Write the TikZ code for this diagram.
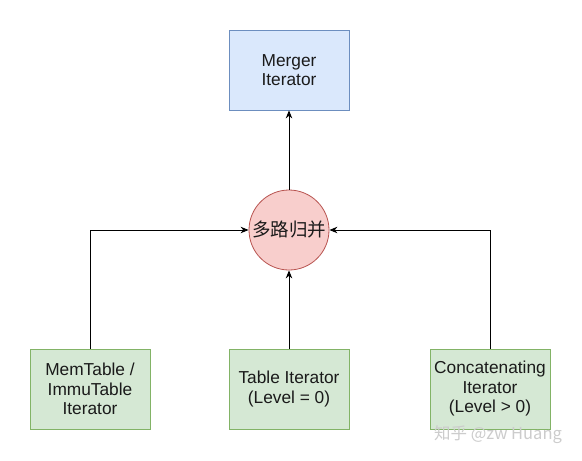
\documentclass[tikz,border=0pt]{standalone}
\usepackage{fontspec}
\setmainfont{Liberation Sans}
\newfontfamily\cjk{Noto Sans CJK SC}
\usetikzlibrary{arrows.meta}
\definecolor{bluefill}{HTML}{DAE8FC}
\definecolor{bluedraw}{HTML}{6C8EBF}
\definecolor{greenfill}{HTML}{D5E8D4}
\definecolor{greendraw}{HTML}{82B366}
\definecolor{redfill}{HTML}{F8CECC}
\definecolor{reddraw}{HTML}{B85450}
\definecolor{txt}{HTML}{1A1A1A}
\begin{document}
\begin{tikzpicture}[x=1pt,y=-1pt,
  box/.style={rectangle, minimum width=120pt, minimum height=80pt, inner sep=0pt,
    align=center, line width=0.8pt, text=txt, font=\fontsize{17.3}{19.5}\selectfont},
  bluebox/.style={box, fill=bluefill, draw=bluedraw},
  greenbox/.style={box, fill=greenfill, draw=greendraw},
  mergecircle/.style={circle, minimum size=80pt, inner sep=0pt, fill=redfill, draw=reddraw,
    line width=0.8pt, text=txt, font=\cjk\fontsize{18.5}{20}\selectfont},
  arr/.style={-{Stealth[length=8pt,width=6.5pt]}, line width=0.9pt, black},
  wmark/.style={text=gray!40, font=\cjk\fontsize{16.5}{19}\selectfont, inner sep=0pt}
]
\useasboundingbox (0,0) rectangle (582,461);
\fill[white] (0,0) rectangle (582,461);
\node[bluebox] (merger) at (289,70) {Merger\\Iterator};
\node[mergecircle] (merge) at (289,230) {多路归并};
\node[greenbox] (mem) at (90,389) {MemTable /\\ImmuTable\\Iterator};
\node[greenbox] (table) at (289,389) {Table Iterator\\(Level = 0)};
\node[greenbox] (concat) at (490,389) {Concatenating\\Iterator\\(Level > 0)};
\draw[arr] (merge) -- (merger);
\draw[arr] (table) -- (merge);
\draw[arr] (mem.north) |- (merge.west);
\draw[arr] (concat.north) |- (merge.east);
\node[wmark] (wm) at (498,435) {知乎 @zw Huang};
\end{tikzpicture}
\end{document}
